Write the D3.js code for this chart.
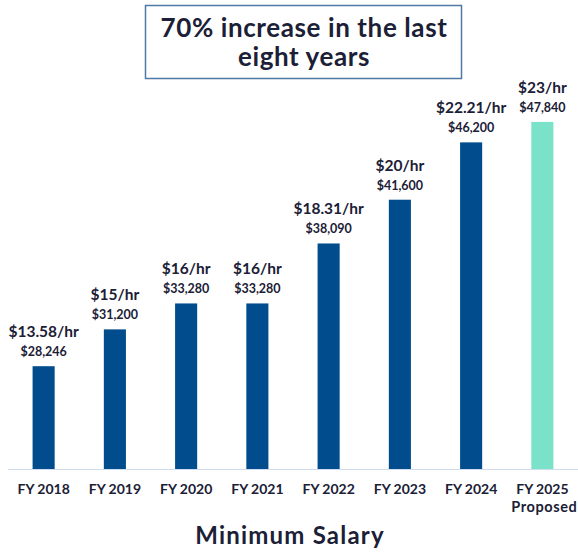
<!DOCTYPE html>
<html>
<head>
<meta charset="utf-8">
<script src="https://cdn.jsdelivr.net/npm/d3@7"></script>
<style>
  html, body { margin: 0; padding: 0; background: #fff; }
  svg { display: block; font-family: Lato, "Open Sans", sans-serif; }
</style>
</head>
<body>
<svg id="chart" width="578" height="552"></svg>
<script>
// chart data
const years = ['FY 2018', 'FY 2019', 'FY 2020', 'FY 2021', 'FY 2022', 'FY 2023', 'FY 2024', 'FY 2025'];
const salaries = [28246, 31200, 33280, 33280, 38090, 41600, 46200, 47840];
const hourly = ['$13.58/hr', '$15/hr', '$16/hr', '$16/hr', '$18.31/hr', '$20/hr', '$22.21/hr', '$23/hr'];
const proposed = ['FY 2025'];
const titleLines = ['70% increase in the last', 'eight years'];

const data = years.map((y, i) => ({ year: y, salary: salaries[i], hr: hourly[i] }));

const svg = d3.select('#chart');
const textColor = '#1b2036';

const x = d3.scaleBand().domain(years).range([8, 578]).paddingInner(0.69).paddingOuter(0.345);
const y = d3.scaleLinear().domain([20000, 50000]).range([469, 95]);

// title box
svg.append('rect')
  .attr('x', 145.5).attr('y', 5.5).attr('width', 316).attr('height', 73)
  .attr('fill', '#fff').attr('stroke', '#4f7aa6').attr('stroke-width', 1.5);

svg.selectAll('.title').data(titleLines).enter().append('text')
  .attr('x', 304).attr('y', (d, i) => 37 + i * 29)
  .attr('text-anchor', 'middle')
  .attr('font-size', 26).attr('font-weight', 700)
  .attr('letter-spacing', 0.6)
  .attr('fill', textColor)
  .text(d => d);

// bars
svg.selectAll('.bar').data(data).enter().append('rect')
  .attr('x', d => x(d.year))
  .attr('y', d => y(d.salary))
  .attr('width', x.bandwidth())
  .attr('height', d => y(20000) - y(d.salary))
  .attr('fill', d => proposed.includes(d.year) ? '#79e2c8' : '#004c8c');

// baseline
svg.append('line')
  .attr('x1', 8).attr('x2', 578).attr('y1', 469.5).attr('y2', 469.5)
  .attr('stroke', '#cfdcf0').attr('stroke-width', 1.2);

// value labels
svg.selectAll('.sal').data(data).enter().append('text')
  .attr('x', d => x(d.year) + x.bandwidth() / 2)
  .attr('y', d => y(d.salary) - 10)
  .attr('text-anchor', 'middle')
  .attr('font-size', 12.5).attr('font-weight', 700)
  .attr('fill', textColor)
  .text(d => d3.format('$,')(d.salary));

svg.selectAll('.hr').data(data).enter().append('text')
  .attr('x', d => x(d.year) + x.bandwidth() / 2)
  .attr('y', d => y(d.salary) - 29)
  .attr('text-anchor', 'middle')
  .attr('font-size', 15.5).attr('font-weight', 700)
  .attr('fill', textColor)
  .text(d => d.hr);

// category labels
const xAxis = svg.append('g');
xAxis.selectAll('.cat').data(years).enter().append('text')
  .attr('x', d => x(d) + x.bandwidth() / 2)
  .attr('y', 494)
  .attr('text-anchor', 'middle')
  .attr('font-size', 14).attr('font-weight', 700)
  .attr('fill', textColor)
  .text(d => d);

xAxis.selectAll('.sub').data(proposed).enter().append('text')
  .attr('x', d => x(d) + x.bandwidth() / 2 + 2)
  .attr('y', 512)
  .attr('text-anchor', 'middle')
  .attr('font-size', 14.5).attr('font-weight', 700)
  .attr('letter-spacing', 0.6)
  .attr('fill', textColor)
  .text('Proposed');

svg.append('text')
  .attr('x', 290).attr('y', 544)
  .attr('text-anchor', 'middle')
  .attr('font-size', 24).attr('font-weight', 700)
  .attr('letter-spacing', 1.2)
  .attr('fill', textColor)
  .text('Minimum Salary');
</script>
</body>
</html>
